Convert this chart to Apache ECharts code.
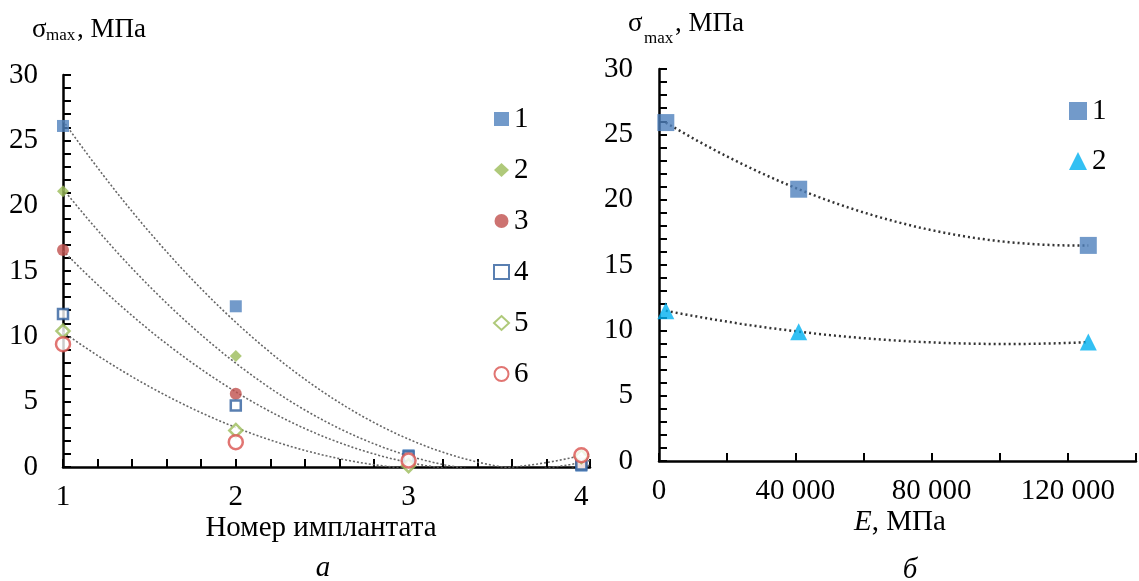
<!DOCTYPE html>
<html>
<head>
<meta charset="utf-8">
<script src="https://cdn.jsdelivr.net/npm/echarts@6/dist/echarts.min.js"></script>
<style>
  html, body { margin: 0; padding: 0; background: #fff; }
  #chart { width: 1139px; height: 581px; }
</style>
</head>
<body>
<div id="chart"></div>
<script>
// левый график: σmax по номеру имплантата
const implants = [1, 2, 3, 4];
const seriesA1 = [26.1, 12.3, 0.9, 0.1];
const seriesA2 = [21.1, 8.5, 0.3, 0.2];
const seriesA3 = [16.6, 5.6, 0.5, 0.3];
const seriesA4 = [11.7, 4.7, 0.8, 0.2];
const seriesA5 = [10.4, 2.8, 0.1, 0.8];
const seriesA6 = [9.4, 1.9, 0.5, 0.9];

// правый график: σmax от модуля упругости E
const modulus = [2000, 41000, 126000];
const seriesB1 = [25.9, 20.8, 16.5];
const seriesB2 = [11.5, 9.9, 9.1];

const yTickLabels = [0, 5, 10, 15, 20, 25, 30];
const implantTickLabels = [1, 2, 3, 4];
const eTickLabels = [0, 40000, 80000, 120000];

const FONT = '"Liberation Serif", "DejaVu Serif", serif';
const BLUE = '#4F81BD', GREEN = '#9BBB59', RED = '#C0504D';

// полиномиальный тренд 2-й степени (МНК)
function polyFit2(xs, ys) {
  const S = [0, 0, 0, 0, 0], T = [0, 0, 0];
  xs.forEach((x, i) => {
    for (let k = 0; k < 5; k++) S[k] += Math.pow(x, k);
    for (let k = 0; k < 3; k++) T[k] += Math.pow(x, k) * ys[i];
  });
  const m = [[S[0], S[1], S[2], T[0]], [S[1], S[2], S[3], T[1]], [S[2], S[3], S[4], T[2]]];
  for (let c = 0; c < 3; c++) {
    for (let r = c + 1; r < 3; r++) {
      const f = m[r][c] / m[c][c];
      for (let k = c; k < 4; k++) m[r][k] -= f * m[c][k];
    }
  }
  const p = [0, 0, 0];
  for (let r = 2; r >= 0; r--) {
    let s = m[r][3];
    for (let k = r + 1; k < 3; k++) s -= m[r][k] * p[k];
    p[r] = s / m[r][r];
  }
  return x => p[0] + p[1] * x + p[2] * x * x;
}

function trendData(xs, ys, from, to, scale) {
  const f = polyFit2(xs.map(x => x / scale), ys);
  const out = [];
  const n = 80;
  for (let i = 0; i <= n; i++) {
    const x = from + (to - from) * i / n;
    out.push([x, f(x / scale)]);
  }
  return out;
}

const pairs = (xs, ys) => xs.map((x, i) => [x, ys[i]]);

function trendSeries(xs, ys, axis, from, to, scale, style) {
  return {
    type: 'line', xAxisIndex: axis, yAxisIndex: axis, showSymbol: false, silent: true,
    data: trendData(xs, ys, from, to, scale), z: 1,
    lineStyle: style
  };
}

function scatter(name, axis, xs, ys, symbol, size, itemStyle) {
  return {
    name: name, type: 'scatter', xAxisIndex: axis, yAxisIndex: axis,
    symbol: symbol, symbolSize: size, clip: false, z: 3,
    data: pairs(xs, ys), itemStyle: itemStyle
  };
}

const axisLineStyle = { lineStyle: { color: '#000', width: 2.5 } };
const tickStyle = { show: true, inside: true, length: 8, lineStyle: { color: '#000', width: 2 } };
const labelStyle = { color: '#000', fontSize: 29, fontFamily: FONT };

const leftTrend = { color: '#666', width: 1.6, type: [2, 2] };
const rightTrend = { color: '#333', width: 2.5, type: [2, 3] };

const chart = echarts.init(document.getElementById('chart'));
chart.setOption({
  animation: false,
  backgroundColor: '#fff',
  grid: [
    { left: 63, top: 75, width: 527, height: 392 },
    { left: 659, top: 69, width: 488, height: 392 }
  ],
  xAxis: [
    {
      gridIndex: 0, type: 'value', min: 1, max: 4.05, interval: 0.2,
      axisLine: axisLineStyle, axisTick: tickStyle, splitLine: { show: false },
      axisLabel: Object.assign({}, labelStyle, {
        margin: 16,
        formatter: v => implantTickLabels.some(t => Math.abs(t - v) < 1e-6) ? String(Math.round(v)) : ''
      })
    },
    {
      gridIndex: 1, type: 'value', min: 0, max: 140000, interval: 20000,
      axisLine: axisLineStyle, axisTick: tickStyle, splitLine: { show: false },
      axisLabel: Object.assign({}, labelStyle, {
        margin: 16,
        formatter: v => eTickLabels.includes(v) ? (v === 0 ? '0' : (v / 1000) + ' 000') : ''
      })
    }
  ],
  yAxis: [
    {
      gridIndex: 0, type: 'value', min: 0, max: 30, interval: 1,
      axisLine: Object.assign({ show: true }, axisLineStyle), axisTick: tickStyle, splitLine: { show: false },
      axisLabel: Object.assign({}, labelStyle, { margin: 25, formatter: v => yTickLabels.includes(v) ? String(v) : '' })
    },
    {
      gridIndex: 1, type: 'value', min: 0, max: 30, interval: 1,
      axisLine: Object.assign({ show: true }, axisLineStyle), axisTick: tickStyle, splitLine: { show: false },
      axisLabel: Object.assign({}, labelStyle, { margin: 26, formatter: v => yTickLabels.includes(v) ? String(v) : '' })
    }
  ],
  legend: [
    {
      orient: 'vertical', left: 488, top: 99, itemWidth: 15, itemHeight: 14, itemGap: 21,
      textStyle: { fontSize: 29, fontFamily: FONT, color: '#000', lineHeight: 30 },
      data: ['1', '2', '3', '4', '5', '6']
    },
    {
      orient: 'vertical', left: 1064, top: 91, itemWidth: 18, itemHeight: 18, itemGap: 20,
      textStyle: { fontSize: 29, fontFamily: FONT, color: '#000', lineHeight: 30 },
      formatter: name => name.replace('b', ''),
      data: ['b1', 'b2']
    }
  ],
  series: [
    trendSeries(implants, seriesA1, 0, 1, 4.05, 1, leftTrend),
    trendSeries(implants, seriesA2, 0, 1, 4.05, 1, leftTrend),
    trendSeries(implants, seriesA3, 0, 1, 4.05, 1, leftTrend),
    trendSeries(implants, seriesA5, 0, 1, 4.05, 1, leftTrend),
    scatter('1', 0, implants, seriesA1, 'rect', 12, { color: BLUE }),
    scatter('2', 0, implants, seriesA2, 'diamond', 12, { color: GREEN }),
    scatter('3', 0, implants, seriesA3, 'circle', 12, { color: RED }),
    scatter('4', 0, implants, seriesA4, 'rect', 10, { color: '#fff', borderColor: '#2F5F9E', borderWidth: 2.5 }),
    scatter('5', 0, implants, seriesA5, 'diamond', 13, { color: '#fff', borderColor: GREEN, borderWidth: 2.5 }),
    scatter('6', 0, implants, seriesA6, 'circle', 14, { color: '#fff', borderColor: '#D9534F', borderWidth: 2.5 }),
    trendSeries(modulus, seriesB1, 1, modulus[0], modulus[2], 10000, rightTrend),
    trendSeries(modulus, seriesB2, 1, modulus[0], modulus[2], 10000, rightTrend),
    scatter('b1', 1, modulus, seriesB1, 'rect', 17, { color: BLUE }),
    scatter('b2', 1, modulus, seriesB2, 'triangle', 17, { color: '#00B0F0' })
  ],
  graphic: [
    { type: 'text', style: { text: 'σ', x: 32, y: 30, font: '27px ' + FONT, fill: '#000', verticalAlign: 'middle' } },
    { type: 'text', style: { text: 'max', x: 46, y: 36, font: '17px ' + FONT, fill: '#000', verticalAlign: 'middle' } },
    { type: 'text', style: { text: ', МПа', x: 77, y: 30, font: '27px ' + FONT, fill: '#000', verticalAlign: 'middle' } },
    { type: 'text', style: { text: 'σ', x: 628, y: 24, font: '27px ' + FONT, fill: '#000', verticalAlign: 'middle' } },
    { type: 'text', style: { text: 'max', x: 644, y: 39, font: '17px ' + FONT, fill: '#000', verticalAlign: 'middle' } },
    { type: 'text', style: { text: ', МПа', x: 675, y: 24, font: '27px ' + FONT, fill: '#000', verticalAlign: 'middle' } },
    { type: 'text', style: { text: 'Номер имплантата', x: 321, y: 528, font: '29px ' + FONT, fill: '#000', align: 'center', verticalAlign: 'middle' } },
    { type: 'text', style: { text: 'а', x: 323, y: 568, font: 'italic 29px ' + FONT, fill: '#000', align: 'center', verticalAlign: 'middle' } },
    {
      type: 'text',
      style: {
        text: '{i|E}, МПа', x: 900, y: 522, font: '29px ' + FONT, fill: '#000', align: 'center', verticalAlign: 'middle',
        rich: { i: { fontStyle: 'italic', fontSize: 29, fontFamily: FONT } }
      }
    },
    { type: 'text', style: { text: 'б', x: 910, y: 570, font: 'italic 29px ' + FONT, fill: '#000', align: 'center', verticalAlign: 'middle' } }
  ]
});
</script>
</body>
</html>
